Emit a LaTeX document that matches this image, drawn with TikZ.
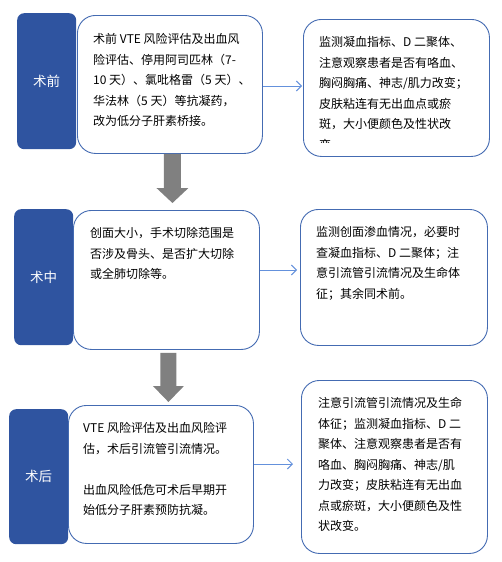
\documentclass[tikz,border=0pt]{standalone}
\usepackage{fontspec}
\setmainfont{Noto Sans CJK SC}
\usetikzlibrary{arrows.meta,calc}
\definecolor{bluebox}{RGB}{47,84,160}
\definecolor{boxline}{RGB}{68,107,178}
\definecolor{linkblue}{RGB}{100,145,220}
\definecolor{arrowgray}{RGB}{128,128,128}
\tikzset{
 lbox/.style={draw=none, fill=bluebox, rounded corners=7pt, anchor=north west, inner sep=0pt, text=white, font=\fontsize{13.5}{16}\selectfont},
 wbox/.style={draw=boxline, line width=0.9pt, fill=white, rounded corners=18pt, anchor=north west, inner sep=0pt},
 txt/.style={anchor=base west, inner sep=0pt, font=\fontsize{12}{20.5}\selectfont},
 link/.style={draw=linkblue, line width=1pt, -{Straight Barb[length=5pt,width=10pt]}},
 blockarrow/.style={fill=arrowgray},
}
\begin{document}
\begin{tikzpicture}[x=1pt,y=-1pt]
\useasboundingbox (0,0) rectangle (502,562);
% row 1
\node[lbox, minimum width=59pt, minimum height=136pt] (b1) at (17,13) {术前};
\node[wbox, minimum width=185pt, minimum height=138pt] (w1) at (77,15) {};
\node[wbox, minimum width=186pt, minimum height=137pt] (r1) at (303,19) {};
% row 2
\node[lbox, minimum width=59pt, minimum height=136pt] (b2) at (14,209) {术中};
\node[wbox, minimum width=186pt, minimum height=139pt] (w2) at (73,210) {};
\node[wbox, minimum width=187pt, minimum height=136pt] (r2) at (300,209) {};
% row 3
\node[lbox, minimum width=59pt, minimum height=135pt] (b3) at (9,409) {术后};
\node[wbox, minimum width=185pt, minimum height=138pt] (w3) at (68,405) {};
\node[wbox, minimum width=186pt, minimum height=173pt] (r3) at (301,380) {};
% texts
\node[txt] (t1) at (93,43.5) {\parbox[t]{200pt}{术前 VTE 风险评估及出血风\\险评估、停用阿司匹林（7-\\10 天）、氯吡格雷（5 天）、\\华法林（5 天）等抗凝药，\\改为低分子肝素桥接。}};
\begin{scope}
\clip (303,19) rectangle (489,142);
\node[txt] (t2) at (319,46.5) {\parbox[t]{200pt}{监测凝血指标、D 二聚体、\\注意观察患者是否有咯血、\\胸闷胸痛、神志/肌力改变；\\皮肤粘连有无出血点或瘀\\斑，大小便颜色及性状改\\变}};
\end{scope}
\node[txt] (t3) at (90,237.5) {\parbox[t]{200pt}{创面大小，手术切除范围是\\否涉及骨头、是否扩大切除\\或全肺切除等。}};
\node[txt] (t4) at (316,236.5) {\parbox[t]{200pt}{监测创面渗血情况，必要时\\查凝血指标、D 二聚体；注\\意引流管引流情况及生命体\\征；其余同术前。}};
\node[txt] (t5) at (83,432.5) {\parbox[t]{200pt}{VTE 风险评估及出血风险评\\估，术后引流管引流情况。\\[20.5pt]出血风险低危可术后早期开\\始低分子肝素预防抗凝。}};
\node[txt] (t6) at (318,407.5) {\parbox[t]{200pt}{注意引流管引流情况及生命\\体征；监测凝血指标、D 二\\聚体、注意观察患者是否有\\咯血、胸闷胸痛、神志/肌\\力改变；皮肤粘连有无出血\\点或瘀斑，大小便颜色及性\\状改变。}};
% block arrows
\fill[blockarrow] let \p1=([xshift=2.5pt]w1.south), \p2=(w2.north) in
  (\x1-8.5pt,\y1) -- (\x1+8.5pt,\y1) -- (\x1+8.5pt,\y2+22pt) -- (\x1+16pt,\y2+22pt)
  -- (\x1,\y2+7pt) -- (\x1-16pt,\y2+22pt) -- (\x1-8.5pt,\y2+22pt) -- cycle;
\fill[blockarrow] let \p1=([xshift=2pt]w2.south), \p2=(w3.north) in
  (\x1-8pt,\y1-3pt) -- (\x1+8pt,\y1-3pt) -- (\x1+8pt,\y2+19pt) -- (\x1+15.5pt,\y2+19pt)
  -- (\x1,\y2+3pt) -- (\x1-15.5pt,\y2+19pt) -- (\x1-8pt,\y2+19pt) -- cycle;
% thin arrows
\coordinate (a1) at (0,86);
\coordinate (a2) at (0,270);
\coordinate (a3) at (0,464);
\draw[link] (w1.east |- a1) -- ([xshift=-1pt]r1.west |- a1);
\draw[link] (w2.east |- a2) -- ([xshift=-3pt]r2.west |- a2);
\draw[link] (w3.east |- a3) -- ([xshift=-8pt]r3.west |- a3);
\end{tikzpicture}
\end{document}
